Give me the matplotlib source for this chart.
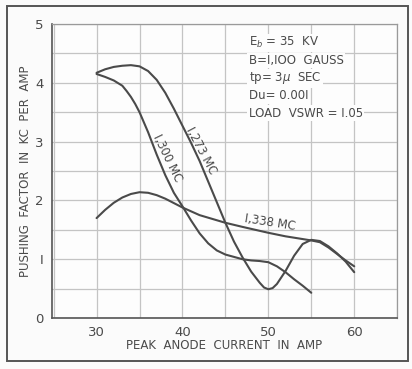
import matplotlib
matplotlib.use("Agg")
import matplotlib.pyplot as plt
from matplotlib.patches import Rectangle

# Pushing factor vs peak anode current for three operating frequencies
x_1273 = [30, 31, 32, 33, 34, 35, 36, 37, 38, 39, 40, 41, 42, 43, 44, 45, 46, 47, 48, 49, 49.5, 50, 50.5, 51, 52, 53, 54, 55, 56, 57, 58, 59, 60]
y_1273 = [4.17, 4.23, 4.27, 4.29, 4.3, 4.28, 4.2, 4.05, 3.83, 3.56, 3.27, 2.98, 2.67, 2.32, 1.97, 1.62, 1.3, 1.03, 0.79, 0.6, 0.52, 0.49, 0.51, 0.58, 0.8, 1.06, 1.26, 1.33, 1.31, 1.22, 1.1, 0.96, 0.78]

x_1300 = [30, 31, 32, 33, 33.5, 34, 34.5, 35, 36, 37, 38, 39, 40, 41, 42, 43, 44, 45, 46, 47, 48, 49, 50, 51, 52, 53, 54, 55]
y_1300 = [4.15, 4.1, 4.04, 3.95, 3.86, 3.76, 3.64, 3.5, 3.16, 2.78, 2.43, 2.13, 1.9, 1.66, 1.44, 1.27, 1.15, 1.08, 1.04, 1.0, 0.98, 0.97, 0.95, 0.88, 0.78, 0.66, 0.55, 0.43]

x_1338 = [30, 31, 32, 33, 34, 35, 36, 37, 38, 40, 42, 45, 47, 50, 52, 55, 56, 57, 58, 59, 60]
y_1338 = [1.7, 1.84, 1.96, 2.05, 2.11, 2.14, 2.13, 2.09, 2.03, 1.88, 1.75, 1.62, 1.55, 1.45, 1.39, 1.32, 1.29, 1.2, 1.09, 0.98, 0.88]

x_ticks = [30, 40, 50, 60]
y_ticks = [0, 1, 2, 3, 4, 5]
y_tick_labels = ["0", "I", "2", "3", "4", "5"]

conditions = ["E$_b$ = 35  KV", "B=I,IOO  GAUSS", "tp= 3$\\mu$  SEC", "Du= 0.00I", "LOAD  VSWR = I.05"]

ink = "#4a4a4a"
grid_c = "#c4c4c4"

fig = plt.figure(figsize=(4.12, 3.69), dpi=100)
fig.patch.set_facecolor("#fbfbfb")
fig.patches.append(Rectangle((0.018, 0.022), 0.972, 0.962, transform=fig.transFigure,
                             fill=False, edgecolor="#555555", linewidth=1.4))

ax = fig.add_axes([0.126, 0.138, 0.838, 0.797])
ax.set_facecolor("#fdfdfd")
ax.set_xlim(24.8, 65)
ax.set_ylim(0, 5)

ax.set_xticks(x_ticks)
ax.set_yticks(y_ticks)
ax.set_yticklabels(y_tick_labels)
ax.set_xticks([25, 35, 45, 55, 65], minor=True)
ax.set_yticks([0.5, 1.5, 2.5, 3.5, 4.5], minor=True)
ax.grid(True, which="both", color=grid_c, linewidth=0.9)
ax.set_axisbelow(True)
ax.tick_params(which="both", length=0, labelsize=9.5, colors=ink, pad=6)

for side in ["top", "right"]:
    ax.spines[side].set_color("#9a9a9a")
    ax.spines[side].set_linewidth(0.9)
for side in ["left", "bottom"]:
    ax.spines[side].set_color("#555555")
    ax.spines[side].set_linewidth(1.2)

lw = 1.5
for xs, ys in [(x_1273, y_1273), (x_1300, y_1300), (x_1338, y_1338)]:
    ax.plot(xs, ys, color=ink, linewidth=lw, solid_capstyle="round", solid_joinstyle="round")

tkw = dict(color=ink, fontsize=8.5, ha="center", va="center")
ax.text(42.2, 2.85, "I,273 MC", rotation=-62, **tkw)
ax.text(38.2, 2.72, "I,300 MC", rotation=-64, **tkw)
ax.text(50.2, 1.63, "I,338 MC", rotation=-9, **tkw)

for i, line in enumerate(conditions):
    ax.text(47.7, 4.68 - i * 0.3, line, color=ink, fontsize=8.5, ha="left", va="center",
            bbox=dict(facecolor="#fdfdfd", edgecolor="none", pad=1.0))

ax.set_xlabel("PEAK  ANODE  CURRENT  IN  AMP", fontsize=8.5, color=ink, labelpad=0)
ax.set_ylabel("PUSHING  FACTOR  IN  KC  PER  AMP", fontsize=8.5, color=ink, labelpad=2)

fig.savefig("out.png", dpi=100)
